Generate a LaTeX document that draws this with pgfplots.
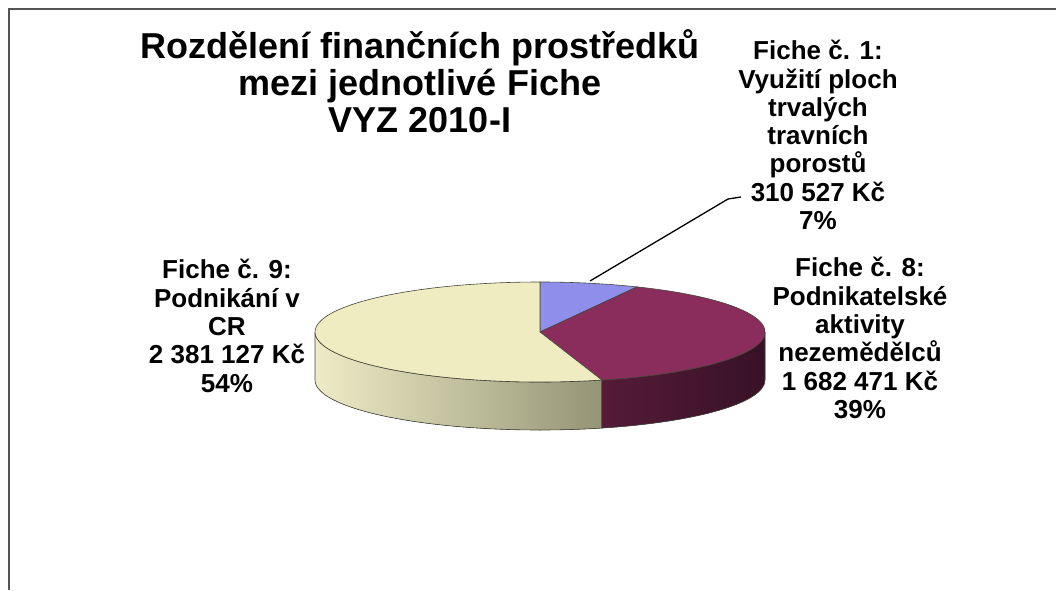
\documentclass[border=0pt]{standalone}
\usepackage{pgfplots}
\pgfplotsset{compat=1.18}
\usepackage{fontspec}
\setmainfont{Liberation Sans}
\definecolor{cBlue}{RGB}{143,143,235}
\definecolor{cMaroon}{RGB}{139,45,92}
\definecolor{cYellow}{RGB}{238,236,192}
\definecolor{ySideL}{RGB}{238,236,198}
\definecolor{ySideR}{RGB}{148,148,118}
\definecolor{mSideL}{RGB}{96,30,62}
\definecolor{mSideR}{RGB}{56,18,38}
\definecolor{edge}{RGB}{70,70,60}
\definecolor{frameC}{RGB}{85,85,85}
\begin{document}
\begin{tikzpicture}
% values in thousands of Kc
\def\vA{310.527}  % Fiche 1
\def\vB{1682.471} % Fiche 8
\def\vC{2381.127} % Fiche 9
\pgfmathsetmacro{\tot}{\vA+\vB+\vC}
\pgfmathsetmacro{\fA}{\vA/\tot}
\pgfmathsetmacro{\fB}{\vB/\tot}
\pgfmathsetmacro{\tA}{90-360*\fA}
\pgfmathsetmacro{\tB}{\tA-360*\fB}
\pgfmathsetmacro{\tBB}{\tB+360}
\begin{axis}[width=1056pt,height=590pt,scale only axis,at={(0pt,0pt)},anchor=south west,
  xmin=0,xmax=1056,ymin=0,ymax=590,hide axis,clip=false]
% frame
\draw[frameC,line width=2pt] (axis cs:9,0) -- (axis cs:9,581) -- (axis cs:1056,581);
% side faces
\fill[left color=ySideL,right color=ySideR,draw=edge,line width=0.6pt]
  (axis cs:540,258) ++(180:225pt and 50pt)
  arc[start angle=180,end angle=\tBB,x radius=225pt,y radius=50pt]
  -- ++(0,-48pt)
  arc[start angle=\tBB,end angle=180,x radius=225pt,y radius=50pt] -- cycle;
\fill[left color=mSideL,right color=mSideR,draw=edge,line width=0.6pt]
  (axis cs:540,258) ++(\tBB:225pt and 50pt)
  arc[start angle=\tBB,end angle=360,x radius=225pt,y radius=50pt]
  -- ++(0,-48pt)
  arc[start angle=360,end angle=\tBB,x radius=225pt,y radius=50pt] -- cycle;
% top faces
\filldraw[fill=cBlue,draw=edge,line width=0.6pt] (axis cs:540,258) -- ++(90:225pt and 50pt)
  arc[start angle=90,end angle=\tA,x radius=225pt,y radius=50pt] -- cycle;
\filldraw[fill=cMaroon,draw=edge,line width=0.6pt] (axis cs:540,258) -- ++(\tA:225pt and 50pt)
  arc[start angle=\tA,end angle=\tB,x radius=225pt,y radius=50pt] -- cycle;
\filldraw[fill=cYellow,draw=edge,line width=0.6pt] (axis cs:540,258) -- ++(\tB:225pt and 50pt)
  arc[start angle=\tB,end angle=-270,x radius=225pt,y radius=50pt] -- cycle;
% leader line
\draw[black,line width=1.3pt] (axis cs:590,309) -- (axis cs:728,391) -- (axis cs:741,393);
% title
\node[align=center,inner sep=0pt,font=\fontsize{36pt}{37pt}\selectfont\bfseries]
  at (axis cs:420,509) {Rozdělení finančních prostředků\\mezi jednotlivé Fiche\\VYZ 2010-I};
% labels
\node[align=center,inner sep=0pt,font=\fontsize{26pt}{28.3pt}\selectfont\bfseries]
  at (axis cs:818,455) {Fiche č. 1:\\Využití ploch\\trvalých\\travních\\porostů\\310 527 Kč\\7\%};
\node[align=center,inner sep=0pt,font=\fontsize{26pt}{28.3pt}\selectfont\bfseries]
  at (axis cs:227,264) {Fiche č. 9:\\Podnikání v\\CR\\2 381 127 Kč\\54\%};
\node[align=center,inner sep=0pt,font=\fontsize{26pt}{28.3pt}\selectfont\bfseries]
  at (axis cs:860,252) {Fiche č. 8:\\Podnikatelské\\aktivity\\nezemědělců\\1 682 471 Kč\\39\%};
\end{axis}
\pgfresetboundingbox
\path[use as bounding box] (0pt,0pt) rectangle (1056pt,590pt);
\end{tikzpicture}
\end{document}
